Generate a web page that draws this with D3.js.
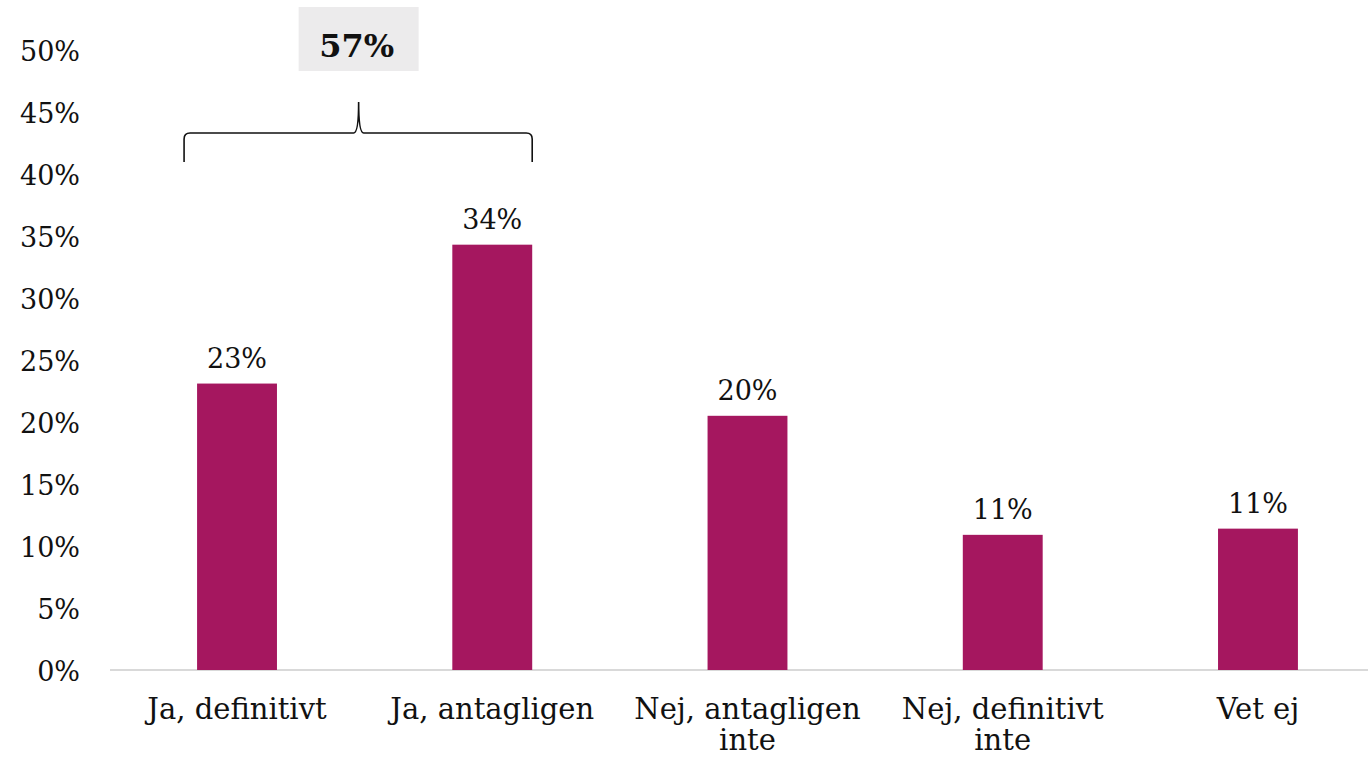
<!DOCTYPE html>
<html>
<head>
<meta charset="utf-8">
<script src="https://cdn.jsdelivr.net/npm/d3@7"></script>
<style>
  body { margin: 0; background: #fff; }
  text { font-family: "DejaVu Serif", "Liberation Serif", serif; fill: #111; }
</style>
</head>
<body>
<div class="chart-container"></div>
<script>
//! DATA
const categories = [['Ja, definitivt'], ['Ja, antagligen'], ['Nej, antagligen', 'inte'], ['Nej, definitivt', 'inte'], ['Vet ej']];
const values = [23.1, 34.3, 20.5, 10.9, 11.4];
const valueLabels = ['23%', '34%', '20%', '11%', '11%'];
const yTicks = [0, 5, 10, 15, 20, 25, 30, 35, 40, 45, 50];
const bracketLabel = '57%';

//! CONSTS
const width = 1368;
const height = 758;
const barColor = '#a5175f';

const svg = d3.select('.chart-container')
  .append('svg')
  .attr('width', width)
  .attr('height', height);

//! SCALES
const xScale = d3.scaleBand()
  .domain(d3.range(values.length))
  .range([109.4, 1385.6])
  .paddingInner(0.687)
  .paddingOuter(0.3435);

const yScale = d3.scaleLinear()
  .domain([0, 50])
  .range([670, 50]);

//! AXES
const xAxis = svg.append('g')
  .attr('transform', `translate(0,${yScale(0)})`);
xAxis.append('line')
  .attr('x1', 110).attr('x2', width)
  .attr('stroke', '#d9d9d9').attr('stroke-width', 2);

const yAxis = svg.append('g')
  .attr('transform', 'translate(80,0)')
  .call(d3.axisLeft(yScale).tickValues(yTicks).tickFormat(d => d + '%').tickSize(0).tickPadding(0));
yAxis.select('.domain').remove();
yAxis.selectAll('text')
  .attr('font-family', '"DejaVu Serif", serif')
  .attr('font-size', 27)
  .attr('fill', '#111')
  .attr('dy', '0.38em');

// category labels
categories.forEach((lines, i) => {
  const t = svg.append('text')
    .attr('x', xScale(i) + xScale.bandwidth() / 2)
    .attr('y', 719)
    .attr('text-anchor', 'middle')
    .attr('font-size', 29);
  lines.forEach((l, j) => {
    t.append('tspan')
      .attr('x', xScale(i) + xScale.bandwidth() / 2)
      .attr('dy', j === 0 ? 0 : 31)
      .text(l);
  });
});

//! BARS
svg.selectAll('rect.bar')
  .data(values)
  .enter()
  .append('rect')
  .attr('class', 'bar')
  .attr('x', (d, i) => xScale(i))
  .attr('y', d => yScale(d))
  .attr('width', xScale.bandwidth())
  .attr('height', d => yScale(0) - yScale(d))
  .attr('fill', barColor);

svg.selectAll('text.val')
  .data(values)
  .enter()
  .append('text')
  .attr('class', 'val')
  .attr('x', (d, i) => xScale(i) + xScale.bandwidth() / 2)
  .attr('y', d => yScale(d) - 16)
  .attr('text-anchor', 'middle')
  .attr('font-size', 27)
  .text((d, i) => valueLabels[i]);

//! BRACKET
const bl = xScale(0) - 13;
const br = xScale(1) + xScale.bandwidth();
const bm = (bl + br) / 2 + 0.5;
const by = 133;
const r = 6;
const bracket = d3.path();
bracket.moveTo(bl, 162);
bracket.lineTo(bl, by + r);
bracket.quadraticCurveTo(bl, by, bl + r, by);
bracket.lineTo(bm - 5, by);
bracket.quadraticCurveTo(bm, by, bm, 102);
bracket.quadraticCurveTo(bm, by, bm + 5, by);
bracket.lineTo(br - r, by);
bracket.quadraticCurveTo(br, by, br, by + r);
bracket.lineTo(br, 162);
svg.append('path')
  .attr('d', bracket.toString())
  .attr('fill', 'none')
  .attr('stroke', '#111')
  .attr('stroke-width', 1.6);

svg.append('rect')
  .attr('x', bm - 60).attr('y', 7)
  .attr('width', 120).attr('height', 64)
  .attr('fill', '#ecebec');
svg.append('text')
  .attr('x', bm - 2).attr('y', 57)
  .attr('text-anchor', 'middle')
  .attr('font-size', 32)
  .attr('font-weight', 'bold')
  .text(bracketLabel);
</script>
</body>
</html>
